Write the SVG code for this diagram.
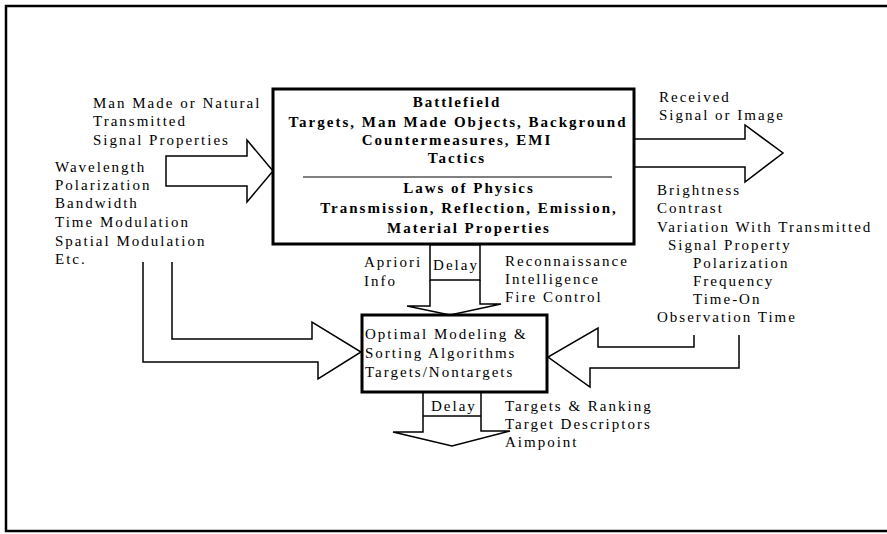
<svg xmlns="http://www.w3.org/2000/svg" width="887" height="534" viewBox="0 0 887 534">
<style>
text{font-family:"Liberation Serif","Times New Roman",serif;font-size:15px;letter-spacing:2px;fill:#000}
.b{font-weight:bold}
.m{text-anchor:middle}
.box{fill:#fff;stroke:#000;stroke-width:3}
.arr{fill:#fff;stroke:#000;stroke-width:1.5;stroke-linejoin:miter}
.thin{fill:none;stroke:#000;stroke-width:1.5}
</style>
<rect width="887" height="534" fill="#fff"/>
<g id="frame"><path d="M887,6 H6 V531 H887" fill="none" stroke="#000" stroke-width="2.5"/></g>

<g id="connectors">
<path class="arr" d="M166,156 H247 V140 L273,171 L247,202 V186 H166 Z"/>
<path class="arr" d="M635,139 H745 V125 L783,153 L745,182 V167 H635"/>
<path class="arr" d="M430,280 V306 H407 L450,315 L501,304 H480 V280"/>
<path class="arr" d="M423,392 V432 H393 L452,446 L510,431 H481 V392"/>
<path class="arr" d="M172,262 V339 H312 V322 L361,352 L318,379 V362 H143 V262"/>
<path class="arr" d="M694,335 V347 H598 V328 L548,357 L590,387 V368 H739 V335"/>
</g>

<g id="battlefield">
<rect class="box" x="273" y="89" width="361" height="155"/>
<text class="b m" x="457" y="107">Battlefield</text>
<text class="b m" x="458" y="127">Targets, Man Made Objects, Background</text>
<text class="b m" x="457" y="145">Countermeasures, EMI</text>
<text class="b m" x="457" y="163">Tactics</text>
<line x1="303" y1="177" x2="612" y2="177" stroke="#000" stroke-width="1"/>
<text class="b m" x="469" y="193">Laws of Physics</text>
<text class="b m" x="469" y="213">Transmission, Reflection, Emission,</text>
<text class="b m" x="469" y="233">Material Properties</text>
</g>

<g id="delay-top">
<rect x="430" y="245" width="50" height="35" fill="#fff" stroke="#000" stroke-width="1.5"/>
<text class="m" x="456" y="270">Delay</text>
</g>

<g id="optimal">
<rect class="box" x="362" y="315" width="185" height="77"/>
<text x="365" y="339">Optimal Modeling &amp;</text>
<text x="365" y="358">Sorting Algorithms</text>
<text x="365" y="377">Targets/Nontargets</text>
</g>

<g id="delay-bottom">
<path class="thin" d="M423,416 H481"/>
<text x="431" y="411">Delay</text>
</g>

<g id="transmitted-label">
<text x="93" y="108">Man Made or Natural</text>
<text x="93" y="126">Transmitted</text>
<text x="93" y="145">Signal Properties</text>
</g>
<g id="properties-label">
<text x="55" y="172">Wavelength</text>
<text x="55" y="190">Polarization</text>
<text x="55" y="208">Bandwidth</text>
<text x="55" y="227">Time Modulation</text>
<text x="55" y="246">Spatial Modulation</text>
<text x="55" y="264">Etc.</text>
</g>
<g id="received-label">
<text x="659" y="102">Received</text>
<text x="659" y="120">Signal or Image</text>
</g>
<g id="measures-label">
<text x="657" y="195">Brightness</text>
<text x="657" y="213">Contrast</text>
<text x="657" y="232">Variation With Transmitted</text>
<text x="668" y="250">Signal Property</text>
<text x="693" y="268">Polarization</text>
<text x="693" y="286">Frequency</text>
<text x="693" y="304">Time-On</text>
<text x="657" y="322">Observation Time</text>
</g>
<g id="apriori-label">
<text x="364" y="267">Apriori</text>
<text x="364" y="286">Info</text>
</g>
<g id="recon-label">
<text x="505" y="266">Reconnaissance</text>
<text x="505" y="284">Intelligence</text>
<text x="505" y="302">Fire Control</text>
</g>
<g id="output-label">
<text x="505" y="411">Targets &amp; Ranking</text>
<text x="505" y="429">Target Descriptors</text>
<text x="505" y="447">Aimpoint</text>
</g>
</svg>
